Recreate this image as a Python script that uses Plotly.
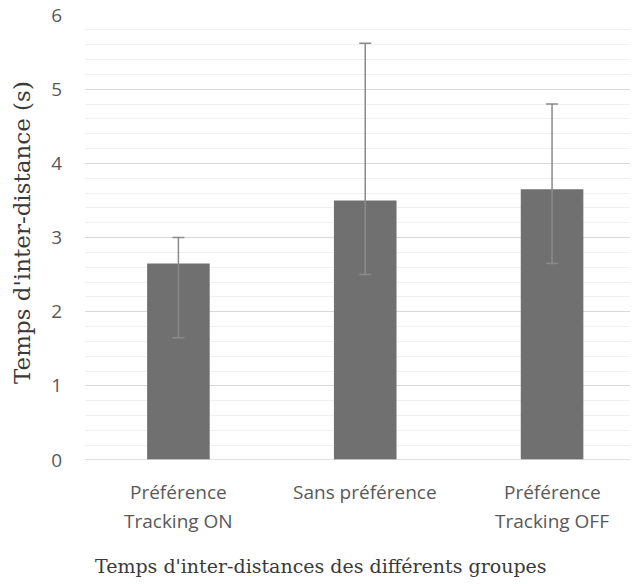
import plotly.graph_objects as go

# Data
cat_line1 = ["Préférence", "Sans préférence", "Préférence"]
cat_line2 = ["Tracking ON", "", "Tracking OFF"]
means = [2.65, 3.50, 3.65]
err_plus = [0.35, 2.12, 1.15]
err_minus = [1.00, 1.00, 1.00]
y_ticks = [0, 1, 2, 3, 4, 5, 6]

# page has an 8px body margin; figure is sized to fill the rest of the window
OFF = 8
W, H = 638 - OFF, 584 - OFF
L, R, T, B = 85 - OFF, 0, 15 - OFF, 124
pw, ph = W - L - R, H - T - B

fig = go.Figure()
fig.add_trace(go.Bar(
    x=[0, 1, 2], y=means,
    marker=dict(color="#707070", line=dict(width=0)),
    width=0.335,
    error_y=dict(type="data", symmetric=False, array=err_plus, arrayminus=err_minus,
                 color="#8a8a8a", thickness=1.5, width=6),
))

def px_x(p):
    return (p - OFF - L) / pw

def px_y(p):
    return (H - B - (p - OFF)) / ph

tick_font = dict(family="Open Sans", size=19, color="#595959")
annotations = []
for i, (a, b) in enumerate(zip(cat_line1, cat_line2)):
    annotations.append(dict(text=a, xref="x", yref="paper", x=i, y=px_y(492),
                            showarrow=False, xanchor="center", yanchor="middle", font=tick_font))
    if b:
        annotations.append(dict(text=b, xref="x", yref="paper", x=i, y=px_y(521),
                                showarrow=False, xanchor="center", yanchor="middle", font=tick_font))

annotations += [
    dict(text="Temps d'inter-distance (s)", xref="paper", yref="paper",
         x=px_x(22), y=px_y(233), textangle=-90, showarrow=False,
         xanchor="center", yanchor="middle",
         font=dict(family="DejaVu Serif", size=23, color="#3a3a3a")),
    dict(text="Temps d'inter-distances des différents groupes", xref="paper", yref="paper",
         x=px_x(321), y=px_y(566), showarrow=False,
         xanchor="center", yanchor="middle",
         font=dict(family="DejaVu Serif", size=19, color="#3a3a3a")),
]

fig.update_layout(
    width=W, height=H,
    margin=dict(l=L, r=R, t=T, b=B, autoexpand=False),
    plot_bgcolor="white", paper_bgcolor="white",
    showlegend=False,
    xaxis=dict(
        range=[-0.5, 2.46], tickvals=[0, 1, 2], showticklabels=False,
        showgrid=False, zeroline=False, showline=False, ticks="", automargin=False,
    ),
    yaxis=dict(
        range=[0, 6], tickmode="array", tickvals=y_ticks,
        showgrid=True, gridcolor="#d9d9d9", gridwidth=1.3,
        zeroline=False, showline=False, ticks="", automargin=False,
        tickfont=tick_font,
        ticklabelstandoff=22,
        ticklabeloverflow="allow",
        minor=dict(dtick=0.2, showgrid=True, gridcolor="#f0f0f0", gridwidth=1.3),
    ),
    annotations=annotations,
)
fig.add_shape(type="line", xref="paper", yref="y", x0=0, x1=1, y0=0, y1=0,
              line=dict(color="#d9d9d9", width=1.5))

fig.write_html("out.html")
